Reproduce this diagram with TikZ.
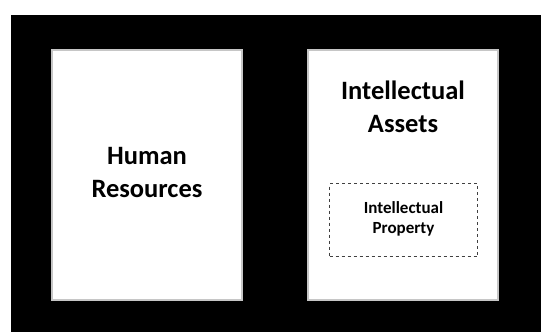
\documentclass[tikz,border=0pt]{standalone}
\usepackage{fontspec}
\setmainfont{Carlito}
\usepackage{tikz}
\usetikzlibrary{positioning}

\begin{document}
\begin{tikzpicture}[x=1pt, y=-1pt,
  panel/.style={draw=gray!45, line width=1.5pt, fill=white, minimum width=190pt, minimum height=250pt, inner sep=0pt},
  bigtext/.style={font=\bfseries\fontsize{26.5}{33}\selectfont, align=center},
  smalltext/.style={font=\bfseries\fontsize{17}{20}\selectfont, align=center},
  dashbox/.style={draw=black!75, dashed, dash pattern=on 3pt off 3pt, line width=0.8pt, minimum width=148pt, minimum height=73pt, inner sep=0pt}]
\useasboundingbox (0,0) rectangle (541,332);
\fill[black] (11,15) rectangle (541,332);

% the two panels
\node[panel] (hr) at (147,175) {};
\node[panel] (ia) at (403,175) {};

% left panel
\node[bigtext] (hrtext) at (hr.center) [yshift=2pt] {Human\\Resources};

% right panel
\node[bigtext] (iatext) at (403,107) {Intellectual\\Assets};
\node[dashbox] (ip) at (403.5,220) {};
\node[smalltext] (iptext) at (ip.center) [yshift=1pt] {Intellectual\\Property};
\end{tikzpicture}
\end{document}
